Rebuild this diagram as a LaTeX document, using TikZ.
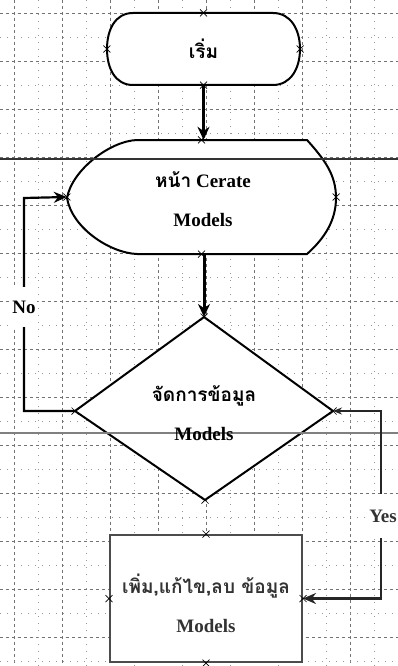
\documentclass[tikz,border=0pt]{standalone}
\usepackage{fontspec}
\setmainfont{Liberation Serif}
\newfontfamily\thaifont[Script=Thai]{Loma}
\usetikzlibrary{arrows.meta}
\newcommand\thtxt[1]{{\thaifont\bfseries #1}}
\tikzset{
  major/.style={black!55, line width=0.6pt, dash pattern=on 3pt off 3pt},
  minor/.style={black!40, line width=0.6pt, dash pattern=on 1pt off 6pt},
  shapeline/.style={line width=2pt, fill=white},
  box/.style={draw=none, inner sep=0pt, align=center, font=\bfseries\fontsize{19}{39}\selectfont},
  conn/.style={line width=3pt, -{Stealth[length=13pt,width=12pt]}},
  loopline/.style={line width=2.2pt},
  lbl/.style={fill=white, inner sep=1pt, font=\bfseries\fontsize{19}{22}\selectfont},
  xm/.style={line width=0.7pt}
}
\begin{document}
\begin{tikzpicture}[x=1pt,y=-1pt]
\useasboundingbox (0,0) rectangle (398,666);
\fill[white] (0,0) rectangle (398,666);
% grid
\foreach \gx in {14,62,...,398} \draw[major] (\gx,0) -- (\gx,666);
\foreach \gy in {13,61,...,666} \draw[major] (0,\gy) -- (398,\gy);
\foreach \gx in {38,86,...,398} \draw[minor] (\gx,0) -- (\gx,666);
\foreach \gy in {37,85,...,666} \draw[minor] (0,\gy) -- (398,\gy);

% start terminator
\draw[shapeline] (133,13) -- (273,13) .. controls (291,13) and (300,30) .. (300,49)
  .. controls (300,68) and (291,85) .. (273,85) -- (133,85)
  .. controls (115,85) and (107,68) .. (107,49)
  .. controls (107,30) and (115,13) .. (133,13) -- cycle;
\node[box, minimum width=193pt, minimum height=72pt] (start) at (203.5,49) {\thtxt{เริ่ม}};

% display shape
\draw[shapeline] (137,140) -- (307,140) .. controls (325,160) and (336,175) .. (336,198)
  .. controls (336,220) and (325,238) .. (307,254) -- (137,254)
  .. controls (110,253) and (72,228) .. (67,198)
  .. controls (72,170) and (110,141) .. (137,140) -- cycle;
\node[box, minimum width=269pt, minimum height=114pt] (disp) at (201.5,197) {};

% decision diamond
\coordinate (dtop) at (204,317);
\coordinate (dright) at (333,411);
\coordinate (dbot) at (205,500);
\coordinate (dleft) at (75,411);
\draw[shapeline] (dtop) -- (dright) -- (dbot) -- (dleft) -- cycle;

% process box
\node[box, draw=black!70, line width=2pt, fill=white, minimum width=192pt, minimum height=127pt] (edit) at (206,598.5) {};

% page lines
\draw[black!80, line width=1.2pt] (0,159) -- (398,159);
\draw[black!50, line width=1.2pt] (0,433) -- (398,433);

% texts
\node[box] (disptxt) at (203,199.5) {\thtxt{หน้า} Cerate\\Models};
\node[box] (dectxt) at (204,413) {\thtxt{จัดการข้อมูล}\\Models};
\node[box, text=black!80] (edittxt) at (206,603) {\thtxt{เพิ่ม,แก้ไข,ลบ ข้อมูล}\\Models};

% connectors
\draw[conn] (start.south) -- (start.south |- disp.north);
\draw[conn] (disp.south -| dtop) -- (dtop);

\coordinate (no1) at (24,411);
\coordinate (no2) at (24,198);
\draw[loopline, -{Stealth[length=13pt,width=11pt]}] (dleft) -- (no1) -- (no2) -- (disp.west);
\node[lbl, minimum height=40pt] (nolbl) at (24,307) {No};

\coordinate (yes1) at (381,411);
\coordinate (yes2) at (381,598.5);
\draw[loopline, black!85, {Stealth[length=9pt,width=7pt]}-{Stealth[length=13pt,width=11pt]}] (dright) -- (yes1) -- (yes2) -- (edit.east);
\node[lbl, text=black!80, minimum height=44pt] (yeslbl) at (383,516) {Yes};

% connection marks
\foreach \p in {start.north,start.south,start.west,start.east,disp.north,disp.south,disp.east,disp.west,dtop,dbot,dleft,dright,edit.north,edit.south,edit.west,edit.east}
  \draw[xm] (\p) ++(-3.5,-3.5) -- ++(7,7) ++(-7,0) -- ++(7,-7);
\end{tikzpicture}
\end{document}
